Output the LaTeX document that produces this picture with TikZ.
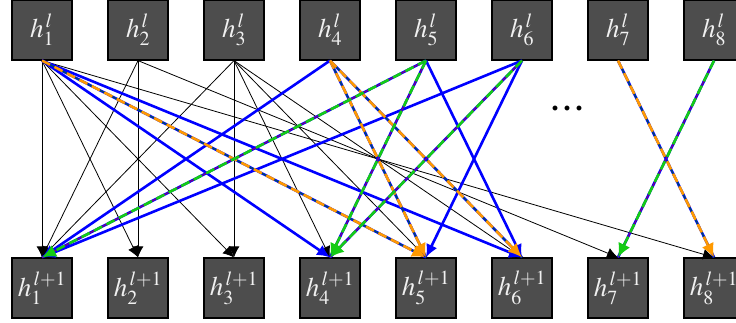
\documentclass[tikz,border=0pt]{standalone}
\usepackage{mathptmx}
\usepackage{fontspec}
\newfontfamily\dotfont{Liberation Serif}
\usetikzlibrary{arrows.meta, math}
\definecolor{boxgray}{RGB}{77,77,77}
\definecolor{myblue}{RGB}{0,0,255}
\definecolor{myorange}{RGB}{255,153,0}
\definecolor{mygreen}{RGB}{20,204,20}
\definecolor{mypurple}{RGB}{150,0,110}
\definecolor{mydkgreen}{RGB}{0,100,60}

\tikzset{
  hbox/.style={draw=black, line width=1.2pt, fill=boxgray, text=white!94!black,
    minimum width=60pt, minimum height=60pt, inner sep=0pt,
    font=\fontsize{27}{30}\selectfont},
  plainedge/.style={-{Latex[length=11pt,width=11pt]}, line width=0.8pt},
  blueedge/.style={-{Latex[length=13pt,width=12pt]}, line width=2.6pt, color=myblue},
  baseedge/.style={line width=2.6pt, color=myblue},
  midedge/.style={line width=0.9pt},
  orangeedge/.style={-{Latex[length=14pt,width=13pt]}, line width=2.6pt,
    color=myorange, dash pattern=on 9pt off 5pt},
  greenedge/.style={-{Latex[length=14pt,width=13pt]}, line width=2.6pt,
    color=mygreen, dash pattern=on 9pt off 5pt}
}

\begin{document}
\begin{tikzpicture}[x=1pt,y=-1pt]
\tikzmath{
\xs=42;
\dx=96;
\yt=30;
\yb=288;
}
\useasboundingbox (0,0) rectangle (736,323);

\foreach \i in {1,...,8}{
  \node[hbox] (t\i) at ({\xs+(\i-1)*\dx},\yt) {$h_{\i}^{\,l}$};
  \node[hbox] (b\i) at ({\xs+(\i-1)*\dx},\yb) {$h_{\i}^{\,l+1}$};
}

\node (dots) at (567,108) {\dotfont\bfseries\fontsize{30}{32}\selectfont .\hspace{4.5pt}.\hspace{4.5pt}.};

% thin links
\foreach \a/\b in {1/1,1/2,1/3,1/8,2/1,2/2,2/7,3/1,3/3,3/4,3/5,3/6}
  \draw[plainedge] (t\a.south) -- (b\b.north);

% blue links
\foreach \a/\b in {1/4,1/6,4/1,5/6,6/1,6/5}
  \draw[blueedge] (t\a.south) -- (b\b.north);

% dashed links
\foreach \a/\b in {1/5,4/5,4/6,7/8}{
  \draw[baseedge] (t\a.south) -- (b\b.north);
  \draw[midedge,color=mydkgreen] (t\a.south) -- (b\b.north);
  \draw[orangeedge] (t\a.south) -- (b\b.north);
}
\foreach \a/\b in {5/1,5/4,6/4,8/7}{
  \draw[baseedge] (t\a.south) -- (b\b.north);
  \draw[midedge,color=mypurple] (t\a.south) -- (b\b.north);
  \draw[greenedge] (t\a.south) -- (b\b.north);
}
\end{tikzpicture}
\end{document}
